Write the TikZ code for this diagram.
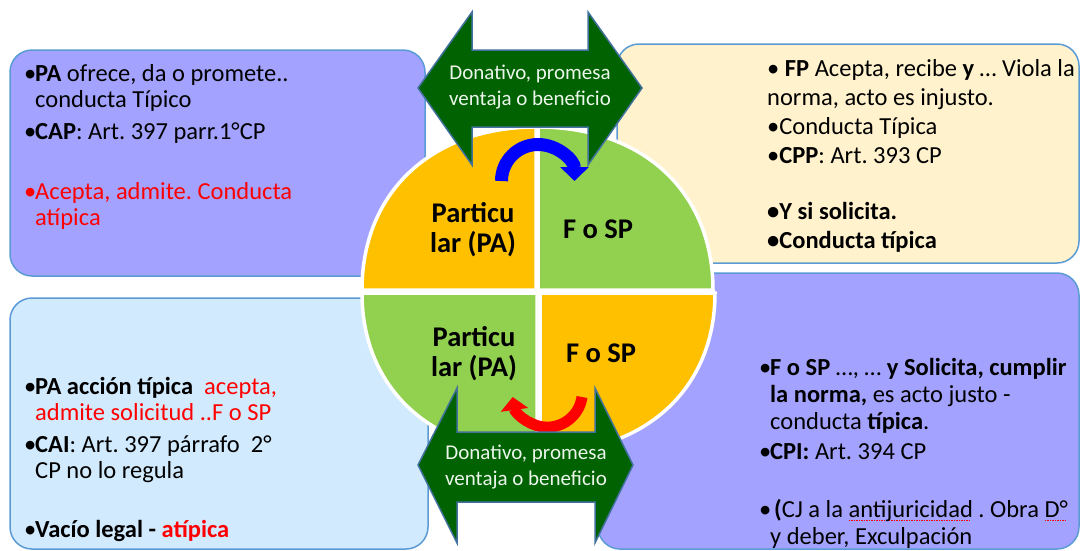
\documentclass[tikz,border=0pt]{standalone}
\usepackage{fontspec}
\setmainfont{Carlito}
\usetikzlibrary{arrows.meta}

\definecolor{lilac}{RGB}{163,163,255}
\definecolor{cream}{RGB}{255,242,204}
\definecolor{skyish}{RGB}{209,234,253}
\definecolor{boxedge}{RGB}{91,155,213}
\definecolor{quadorange}{RGB}{255,192,0}
\definecolor{quadgreen}{RGB}{146,208,80}
\definecolor{giftgreen}{RGB}{0,98,0}
\definecolor{giftedge}{RGB}{65,113,156}
\definecolor{gifttext}{RGB}{236,246,236}

\newsavebox\spellbox
\newcommand\bul{\llap{\makebox[11pt][l]{•}}}
\newcommand\spellerr[1]{\sbox\spellbox{#1}\rlap{\textcolor{red}{\leaders\hbox{\rule[-3pt]{1.5pt}{0.8pt}\kern1pt}\hskip\wd\spellbox}}#1}

\tikzset{
  note/.style={draw=boxedge, line width=1.5pt, rounded corners=22pt},
  quad/.style={draw=white, line width=3.5pt},
  gift/.style={fill=giftgreen, draw=giftedge, line width=1.5pt},
  notetext/.style={anchor=north west, inner sep=0pt, align=left, execute at begin node=\strut},
  quadlabel/.style={anchor=north, inner sep=0pt, align=center,
    font=\fontsize{28.5}{30}\selectfont\bfseries, execute at begin node=\strut},
  gifttxt/.style={anchor=north, inner sep=0pt, align=center, text=gifttext,
    font=\fontsize{21}{26}\selectfont, execute at begin node=\strut},
}

\begin{document}
\frenchspacing
\begin{tikzpicture}[x=1pt, y=-1pt]
  \useasboundingbox (0,0) rectangle (1081,550);

  % Draw note boxes
  \draw[note, fill=lilac] (10,50) rectangle (425,276);
  \draw[note, fill=cream] (617,44) rectangle (1079,263);
  \draw[note, fill=skyish] (10,298) rectangle (428,549);
  \draw[note, fill=lilac] (598,273) rectangle (1079,549);

  % Draw circle quadrants
  \filldraw[quad, fill=quadorange] (536,290) -- (362,290) .. controls (362,192) and (432,127) .. (536,127) -- cycle;
  \filldraw[quad, fill=quadgreen] (538,290) -- (538,127) .. controls (643,127) and (713,192) .. (713,290) -- cycle;
  \filldraw[quad, fill=quadgreen] (537,293) -- (362,293) .. controls (362,389) and (432,453) .. (537,453) -- cycle;
  \filldraw[quad, fill=quadorange] (540,293) -- (715,293) .. controls (715,389) and (645,453) .. (540,453) -- cycle;

  \node[quadlabel] (paTop) at (473,202) {Particu\\lar (PA)};
  \node[quadlabel] (spTop) at (598,217) {F o SP};
  \node[quadlabel] (paBot) at (474,326) {Particu\\lar (PA)};
  \node[quadlabel] (spBot) at (601,341) {F o SP};

  % Draw curved arrows
  \draw[blue, line width=13pt, -{Triangle[length=14pt,width=28pt]}]
    (501.5,181) arc[start angle=180, end angle=360, radius=36.5];
  \draw[red, line width=11pt, -{Triangle[length=13pt,width=27pt]}]
    (582,397) arc[start angle=8, end angle=172, radius=35];

  % Draw double arrows
  \filldraw[gift] (418,88) -- (472,12) -- (472,50) -- (588,50) -- (588,12) -- (642,88)
    -- (588,165) -- (588,127) -- (472,127) -- (472,165) -- cycle;
  \node[gifttxt] (giftTop) at (530,64.8) {Donativo, promesa\\ventaja o beneficio};

  \filldraw[gift] (418,465) -- (457,388) -- (457,432) -- (595,432) -- (595,388) -- (633,465)
    -- (595,543) -- (595,502) -- (457,502) -- (457,543) -- cycle;
  \node[gifttxt] (giftBot) at (526,444.8) {Donativo, promesa\\ventaja o beneficio};

  % Box texts
  \node[notetext, font=\fontsize{24.5}{26}\selectfont] (notePA) at (35,63.8)
    {\bul\textbf{PA} ofrece, da o promete..\\
     conducta Típico\\[6pt]
     \bul\textbf{CAP}: Art. 397 parr.1°CP\\[34pt]
     \textcolor{red}{\bul Acepta, admite. Conducta}\\
     \textcolor{red}{atípica}};

  \node[notetext, font=\fontsize{24.5}{29}\selectfont] (noteFP) at (767,59.7)
    {• \textbf{FP} Acepta, recibe \textbf{y} … Viola la\\
     norma, acto es injusto.\\
     •Conducta Típica\\
     •\textbf{CPP}: Art. 393 CP\\[27pt]
     \textbf{•Y si solicita.}\\
     \textbf{•Conducta típica}};

  \node[notetext, font=\fontsize{24.5}{26}\selectfont] (noteCAI) at (35,376.8)
    {\bul\textbf{PA acción típica}\ \ \textcolor{red}{acepta,}\\
     \textcolor{red}{admite solicitud ..F o SP}\\[6pt]
     \bul\textbf{CAI}: Art. 397 párrafo\ \ 2°\\
     CP no lo regula\\[33pt]
     \bul\textbf{Vacío legal - \textcolor{red}{atípica}}};

  \node[notetext, font=\fontsize{24.5}{27}\selectfont] (noteCPI) at (770,358.1)
    {\bul\textbf{F o SP} …, … \textbf{y Solicita, cumplir}\\
     \textbf{la norma,} es acto justo -\\
     conducta \textbf{típica}.\\[3pt]
     \bul\textbf{CPI:} Art. 394 CP\\[31pt]
     \bul\hspace*{4pt}\textbf{(}CJ a la \spellerr{antijuricidad} . Obra \spellerr{D°}\\
     y deber, Exculpación};
\end{tikzpicture}
\end{document}
